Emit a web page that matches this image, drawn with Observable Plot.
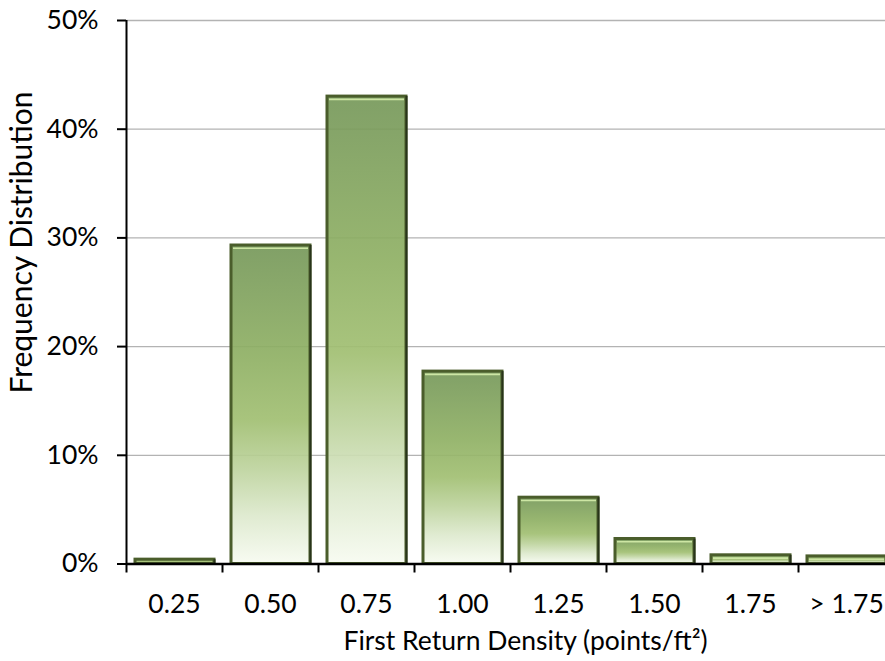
<!DOCTYPE html>
<html>
<head>
<meta charset="utf-8">
<script src="https://cdn.jsdelivr.net/npm/d3@7"></script>
<script src="https://cdn.jsdelivr.net/npm/@observablehq/plot@0.6"></script>
<style>
  html, body { margin: 0; padding: 0; background: #fff; overflow: hidden; }
</style>
</head>
<body>
<div id="chart"></div>
<script>
// Density classes (points per square foot) and the share of tiles in each
const categories = ["0.25", "0.50", "0.75", "1.00", "1.25", "1.50", "1.75", "> 1.75"];
const shares = [0.004, 0.293, 0.430, 0.177, 0.061, 0.023, 0.008, 0.007];
const yTicks = [0, 0.1, 0.2, 0.3, 0.4, 0.5];
const xTitle = "First Return Density (points/ft²)";
const yTitle = "Frequency Distribution";

const bars = categories.map((category, index) => ({category, index, share: shares[index]}));
const boundaries = d3.range(categories.length + 1);
const centers = categories.map((_, i) => i + 0.5);

const chart = Plot.plot({
  width: 885,
  height: 661,
  marginLeft: 126,
  marginRight: -9,
  marginTop: 20,
  marginBottom: 97.5,
  style: {fontFamily: "Lato, 'Open Sans', sans-serif", fontSize: "26.5px", color: "#000", background: "#fff"},
  x: {domain: [0, categories.length]},
  y: {domain: [0, 0.5]},
  marks: [
    Plot.gridY(yTicks.slice(1), {stroke: "#b3b3b3", strokeOpacity: 1, strokeWidth: 1.3}),
    // bars with a vertical green-to-white gradient
    Plot.rectY(bars, {
      x1: "index", x2: d => d.index + 1, y: "share",
      insetLeft: 9, insetRight: 8,
      fill: "url(#barFill)", fillOpacity: 0.92,
      stroke: "#4a5d2b", strokeWidth: 3
    }),
    // bevel: light edge under the top border, dark edge on the right
    Plot.ruleY(bars.filter(d => d.share >= 0.006), {
      y: "share", x1: "index", x2: d => d.index + 1,
      insetLeft: 11, insetRight: 10, dy: 2.8,
      stroke: "#cde6a4", strokeWidth: 1.6
    }),
    Plot.ruleX(bars, {
      x: d => d.index + 1, y1: 0, y2: "share", dx: -8,
      stroke: "#28341a", strokeWidth: 2
    }),
    Plot.ruleY([0], {stroke: "#000", strokeWidth: 2.5}),
    Plot.ruleX([0], {stroke: "#000", strokeWidth: 2}),
    Plot.axisY({ticks: yTicks, tickFormat: d3.format(".0%"), tickSize: 9, tickPadding: 19, strokeWidth: 2, label: null}),
    Plot.axisX({ticks: boundaries, tickFormat: () => "", tickSize: 9, strokeWidth: 2, label: null}),
    Plot.axisX({ticks: centers, tickFormat: v => categories[Math.floor(v)], tickSize: 0, tickPadding: 30, label: null}),
    Plot.text([xTitle], {text: d => d, frameAnchor: "bottom", dx: 15, dy: 78, lineAnchor: "middle", fill: "#000"}),
    Plot.text([yTitle], {text: d => d, frameAnchor: "top-left", textAnchor: "middle", rotate: -90, dx: -104, dy: 222, lineAnchor: "middle", fontSize: 30, fill: "#000"})
  ]
});

// gradient used by the bar fill
d3.select(chart).insert("defs", ":first-child").html(`
  <linearGradient id="barFill" x1="0" y1="0" x2="0" y2="1">
    <stop offset="0" stop-color="#76985a"/>
    <stop offset="0.35" stop-color="#8fb064"/>
    <stop offset="0.55" stop-color="#a1bf72"/>
    <stop offset="0.70" stop-color="#bdd39d"/>
    <stop offset="0.85" stop-color="#dde9cd"/>
    <stop offset="1" stop-color="#f7fbf1"/>
  </linearGradient>`);

document.getElementById("chart").append(chart);
</script>
</body>
</html>
